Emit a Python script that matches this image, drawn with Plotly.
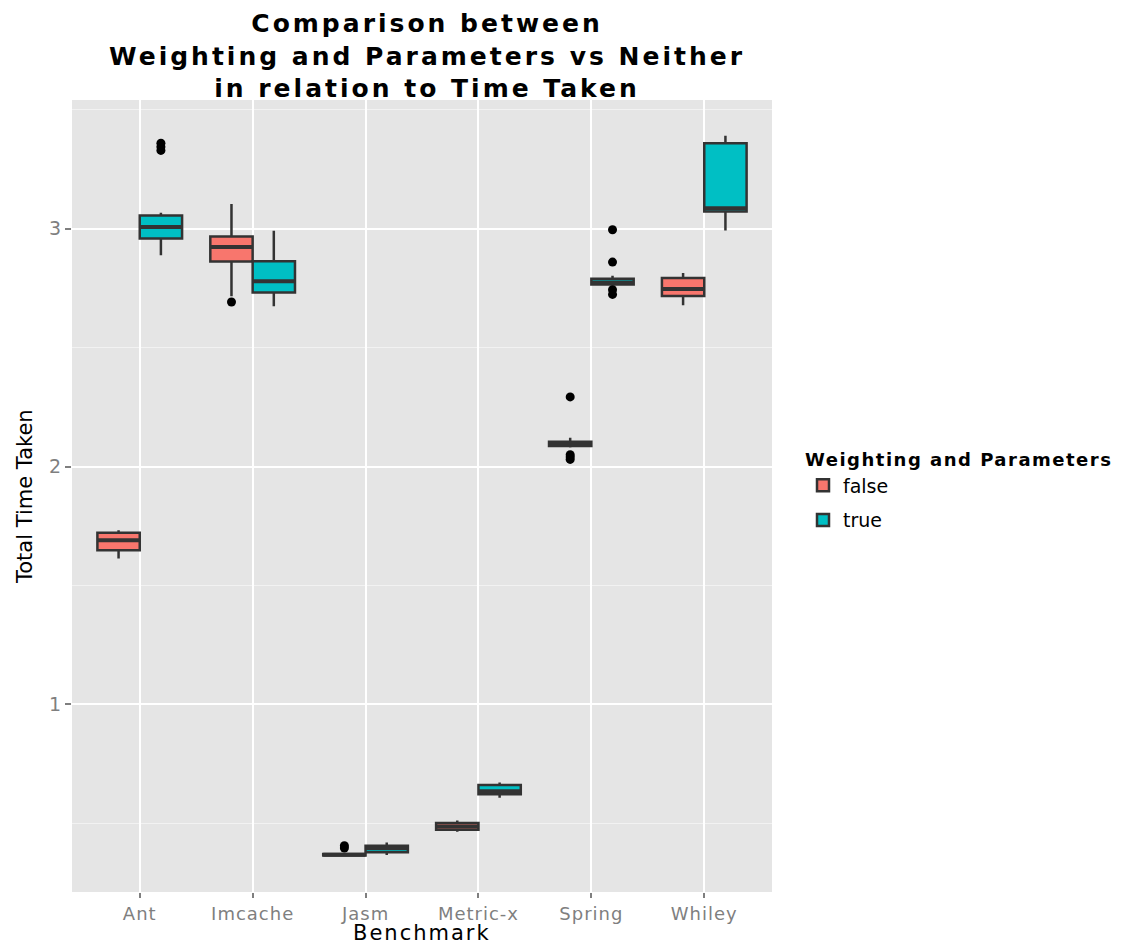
import plotly.graph_objects as go

benchmarks = ["Ant", "Imcache", "Jasm", "Metric-x", "Spring", "Whiley"]

# false series (Weighting and Parameters = false)
false_q1 = [1.648, 2.863, 0.364, 0.472, 2.086, 2.717]
false_median = [1.690, 2.924, 0.367, 0.486, 2.095, 2.747]
false_q3 = [1.721, 2.968, 0.370, 0.500, 2.104, 2.793]
false_lower = [1.613, 2.716, 0.362, 0.463, 2.080, 2.678]
false_upper = [1.732, 3.104, 0.373, 0.511, 2.121, 2.814]
false_out_bench = ["Imcache", "Jasm", "Jasm", "Spring", "Spring", "Spring", "Spring"]
false_out_vals = [2.692, 0.395, 0.405, 2.293, 2.050, 2.040, 2.030]

# true series
true_q1 = [2.959, 2.732, 0.377, 0.621, 2.766, 3.073]
true_median = [3.008, 2.779, 0.394, 0.634, 2.774, 3.087]
true_q3 = [3.056, 2.864, 0.405, 0.660, 2.790, 3.360]
true_lower = [2.889, 2.674, 0.366, 0.606, 2.762, 2.993]
true_upper = [3.068, 2.992, 0.418, 0.671, 2.803, 3.392]
true_out_bench = ["Ant", "Ant", "Ant", "Spring", "Spring", "Spring", "Spring"]
true_out_vals = [3.360, 3.345, 3.330, 2.996, 2.860, 2.744, 2.724]

groups = ["false", "true"]
colors = {"false": "#F8766D", "true": "#00BFC4"}
dodge = 0.1875
box_w = 0.375

pos = {b: i + 1 for i, b in enumerate(benchmarks)}

fig = go.Figure()

series = {
    "false": (false_q1, false_median, false_q3, false_lower, false_upper, false_out_bench, false_out_vals, -dodge),
    "true": (true_q1, true_median, true_q3, true_lower, true_upper, true_out_bench, true_out_vals, dodge),
}

for g in groups:
    q1, med, q3, lo, hi, ob, ov, off = series[g]
    xs = [pos[b] + off for b in benchmarks]
    fig.add_trace(go.Box(
        x=xs, q1=q1, median=med, q3=q3, lowerfence=lo, upperfence=hi,
        name=g, width=box_w, fillcolor=colors[g],
        line=dict(color="#333333", width=2.5), whiskerwidth=0,
        boxpoints=False, legendgroup=g, hoverinfo="skip",
    ))
    # thicker median line (ggplot style)
    mx, my = [], []
    for x, m in zip(xs, med):
        mx += [x - box_w / 2, x + box_w / 2, None]
        my += [m, m, None]
    fig.add_trace(go.Scatter(x=mx, y=my, mode="lines", line=dict(color="#333333", width=4),
                             showlegend=False, hoverinfo="skip"))
    # outliers
    fig.add_trace(go.Scatter(x=[pos[b] + off for b in ob], y=ov, mode="markers",
                             marker=dict(color="black", size=9), showlegend=False, hoverinfo="skip"))

L, R, T, B = 72, 374, 100, 55
W, H = 1146, 947
ph = H - T - B

def py(p):
    return (H - B - p) / ph

title_text = "<br>".join(["Comparison between", "Weighting and Parameters vs Neither", "in relation to Time Taken"])
fig.add_annotation(text=f'<span style="letter-spacing:3px">{title_text}</span>', xref="paper", yref="paper",
                   x=(427 - L) / 700, y=py(56), showarrow=False, xanchor="center", yanchor="middle",
                   align="center",
                   font=dict(family="DejaVu Sans", size=25, color="black", weight="bold"))

fig.add_annotation(text="Total Time Taken", xref="paper", yref="paper", x=(25 - L) / 700, y=py(497),
                   textangle=-90, showarrow=False, xanchor="center", yanchor="middle",
                   font=dict(family="DejaVu Sans", size=21, color="black"))
fig.add_annotation(text='<span style="letter-spacing:2px">Benchmark</span>', xref="paper", yref="paper",
                   x=(422 - L) / 700, y=py(933), showarrow=False, xanchor="center", yanchor="middle",
                   font=dict(family="DejaVu Sans", size=21, color="black"))

fig.update_layout(
    width=W, height=H,
    margin=dict(l=L, r=R, t=T, b=B),
    paper_bgcolor="white", plot_bgcolor="#E5E5E5",
    showlegend=True,
    legend=dict(
        x=(803 - L) / 700, y=py(443), xanchor="left", yanchor="top",
        title=dict(text='<b><span style="letter-spacing:1.5px">Weighting and Parameters</span></b>',
                   font=dict(family="DejaVu Sans", size=18, color="black")),
        font=dict(family="DejaVu Sans", size=19, color="black"),
        tracegroupgap=7, bgcolor="rgba(0,0,0,0)",
    ),
    xaxis=dict(
        range=[0.4, 6.6], tickvals=[pos[b] for b in benchmarks],
        ticktext=[f'<span style="letter-spacing:1px">{b}</span>' for b in benchmarks],
        showgrid=True, gridcolor="white", gridwidth=2, zeroline=False,
        ticks="outside", ticklen=5, tickcolor="#7F7F7F", tickwidth=1.5,
        tickfont=dict(family="DejaVu Sans", size=18, color="#7F7F7F"),
        showline=False,
    ),
    yaxis=dict(
        range=[0.21, 3.542], tickvals=[1, 2, 3],
        showgrid=True, gridcolor="white", gridwidth=2, zeroline=False,
        ticks="outside", ticklen=6, tickcolor="#7F7F7F", tickwidth=1.5,
        tickfont=dict(family="DejaVu Sans", size=19, color="#7F7F7F"),
        minor=dict(tickvals=[0.5, 1.5, 2.5, 3.5], showgrid=True, gridcolor="#F2F2F2", gridwidth=1, ticks=""),
        showline=False,
    ),
)

fig.write_html("out.html")
